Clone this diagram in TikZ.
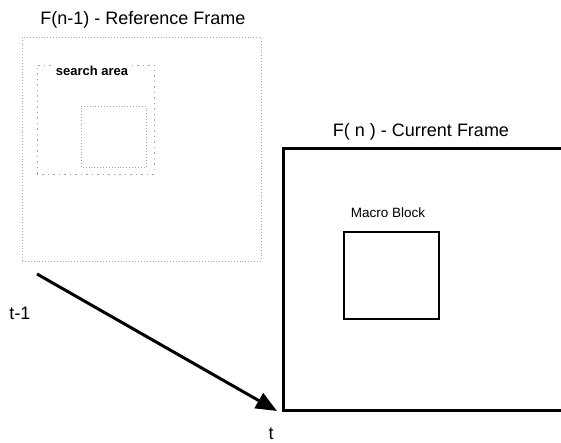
\documentclass[tikz,border=0pt]{standalone}
\usepackage{fontspec}
\setmainfont{Liberation Sans}
\usetikzlibrary{arrows.meta}
\tikzset{
  reftitle/.style={font=\fontsize{18}{20}\selectfont, inner sep=0pt},
  smalllabel/.style={font=\fontsize{13}{15}\selectfont, inner sep=1pt},
  refbox/.style={draw=gray!70, dotted, line width=0.9pt},
  searchbox/.style={draw=gray!70, line width=0.9pt, dash pattern=on 1.5pt off 4pt},
  curframe/.style={draw=black, line width=3pt},
  mbbox/.style={draw=black, line width=1.4pt},
  timearrow/.style={draw=black, line width=3pt, -{Triangle[length=21pt,width=17pt]}}
}
\begin{document}
\begin{tikzpicture}[x=1pt,y=1pt]
\useasboundingbox (0,0) rectangle (561,443);
% reference frame
\draw[refbox] (22,182) rectangle (261,406);
\draw[searchbox] (37,269) rectangle (154,378);
\draw[refbox] (81,276) rectangle (146,337);
\node[smalllabel, fill=white, font=\bfseries\fontsize{13}{15}\selectfont] (sa) at (92,372) {search area};
\node[reftitle] (t1) at (143,423) {F(n-1) - Reference Frame};
% current frame
\draw[curframe, line cap=rect] (561,294) -- (283,294) -- (283,32) -- (561,32);
\node[reftitle] (t2) at (421,311) {F( n ) - Current Frame};
\draw[mbbox] (344,124) rectangle (439,211);
\node[smalllabel, font=\fontsize{13.5}{15}\selectfont] (mb) at (388,230) {Macro Block};
% time arrow
\coordinate (a0) at (37,169);
\coordinate (a1) at (277,32);
\draw[timearrow] (a0) -- (a1);
\node[reftitle] (tm1) at (20,130) {t-1};
\node[reftitle, anchor=base] (tt) at (271,3) {t};
\end{tikzpicture}
\end{document}
